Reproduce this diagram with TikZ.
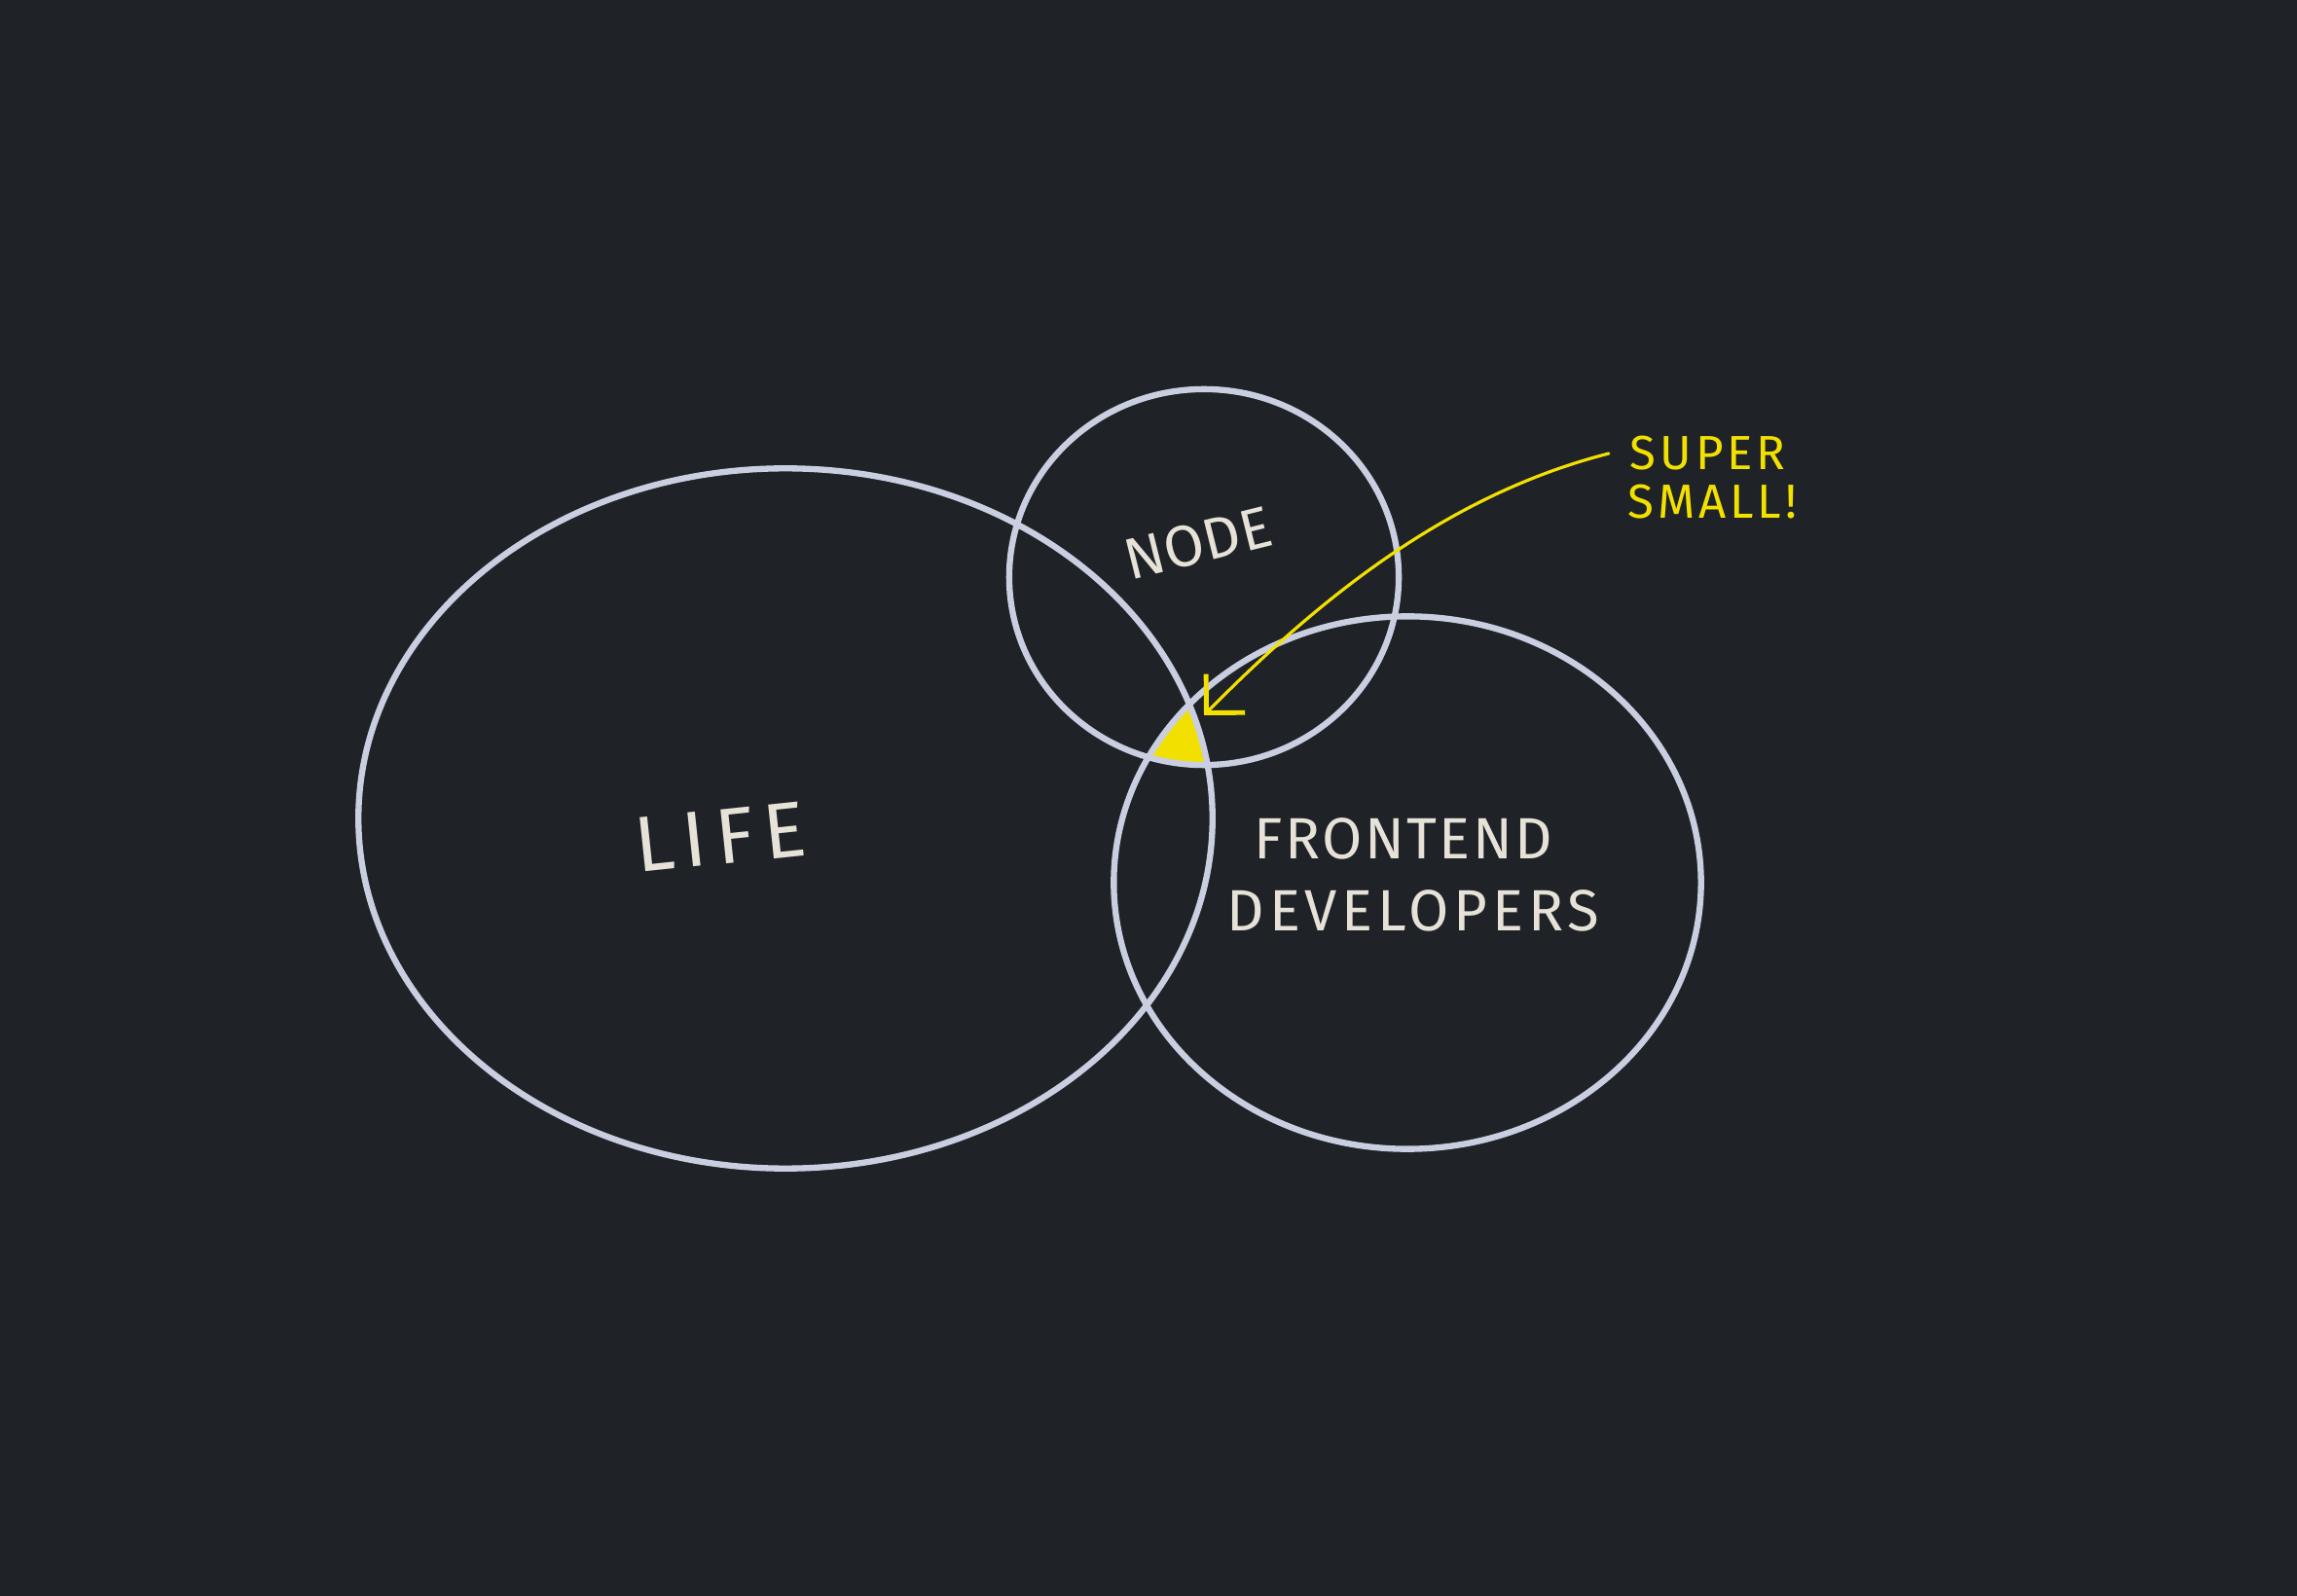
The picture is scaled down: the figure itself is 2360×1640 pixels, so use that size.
\documentclass[tikz,border=0pt]{standalone}
\usepackage{fontspec}
\setmainfont{Fira Sans}
\usetikzlibrary{shapes.geometric,arrows.meta}
\definecolor{bg}{HTML}{1F2328}
\definecolor{ring}{HTML}{C9CEE0}
\definecolor{ink}{HTML}{E6E2D8}
\definecolor{hl}{HTML}{F2E000}
\tikzset{
  setshape/.style={ellipse, draw=ring, line width=1.8pt, inner sep=0pt},
  lbl/.style={text=ink, inner sep=0pt},
  note/.style={text=hl, font=\fontsize{14}{16}\selectfont\addfontfeatures{LetterSpace=8}, inner sep=0pt, align=left},
}
\begin{document}
\begin{tikzpicture}[x=0.01cm,y=-0.01cm]
\fill[bg] (0,0) rectangle (2360,1640);
\useasboundingbox (0,0) rectangle (2360,1640);
% triple intersection fill
\begin{scope}
  \clip (807,841) ellipse [x radius=438, y radius=360];
  \clip (1237,593) ellipse [x radius=200, y radius=193];
  \fill[hl] (1446,907) ellipse [x radius=301, y radius=273];
\end{scope}
\node[setshape, minimum width=8.77cm, minimum height=7.19cm] (life) at (807,841) {};
\node[setshape, minimum width=4.00cm, minimum height=3.86cm] (node) at (1237,593) {};
\node[setshape, minimum width=6.03cm, minimum height=5.47cm] (fe) at (1446,907) {};
\node[lbl, font=\fontsize{23}{27}\selectfont\addfontfeatures{LetterSpace=12}, rotate=6] (lifet) at (740,860) {LIFE};
\node[lbl, font=\fontsize{17}{20}\selectfont, rotate=14] (nodet) at (1231,558) {NODE};
\node[lbl, font=\fontsize{17}{20}\selectfont\addfontfeatures{LetterSpace=4}] (fet) at (1442,862) {FRONTEND};
\node[lbl, font=\fontsize{17}{20}\selectfont\addfontfeatures{LetterSpace=8}] (devt) at (1452,936) {DEVELOPERS};
\node[note, anchor=west] (super) at (1674,466) {SUPER};
\node[note, anchor=west] (small) at (1672,516) {SMALL!};
\coordinate (tip) at (1237,735);
\draw[hl, line width=0.9pt, line cap=round, -{Straight Barb[length=8pt,width=16pt,line width=1.4pt]}]
  ([xshift=-6pt]super.west) .. controls (1500,505) and (1370,600) .. (tip);
\end{tikzpicture}
\end{document}
